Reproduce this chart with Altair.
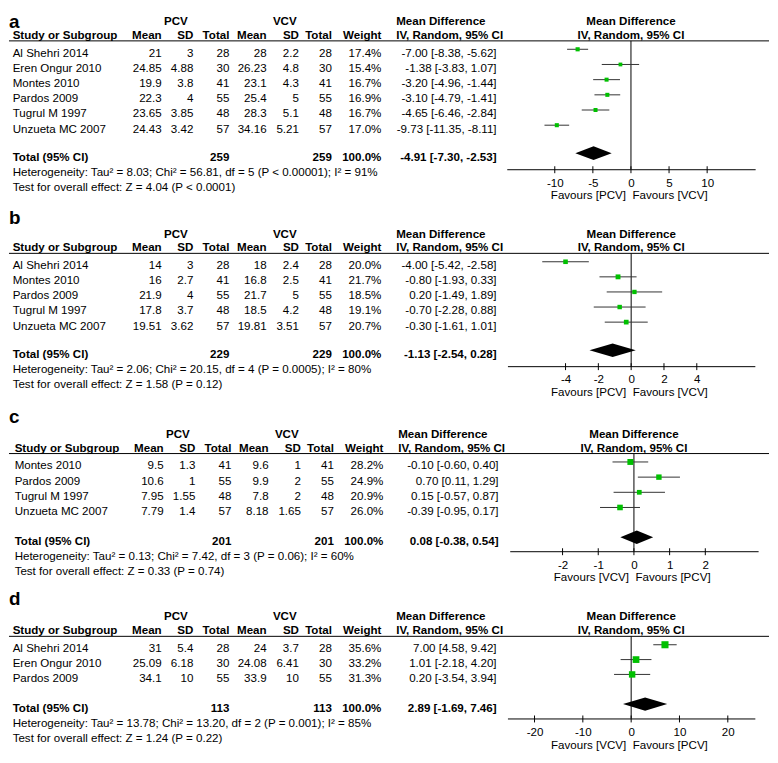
import altair as alt
import pandas as pd

FONT = "Liberation Sans"
FS = 11.7
GREEN = "#00c000"
LINE = "#333333"

# ------------------------------------------------------------------ data
# panel a
a_study = ["Al Shehri 2014", "Eren Ongur 2010", "Montes 2010", "Pardos 2009", "Tugrul M 1997", "Unzueta MC 2007"]
a_pcv_mean = [21, 24.85, 19.9, 22.3, 23.65, 24.43]
a_pcv_sd = [3, 4.88, 3.8, 4, 3.85, 3.42]
a_pcv_n = [28, 30, 41, 55, 48, 57]
a_vcv_mean = [28, 26.23, 23.1, 25.4, 28.3, 34.16]
a_vcv_sd = [2.2, 4.8, 4.3, 5, 5.1, 5.21]
a_vcv_n = [28, 30, 41, 55, 48, 57]
a_weight = [17.4, 15.4, 16.7, 16.9, 16.7, 17.0]
a_md = [-7.00, -1.38, -3.20, -3.10, -4.65, -9.73]
a_lo = [-8.38, -3.83, -4.96, -4.79, -6.46, -11.35]
a_hi = [-5.62, 1.07, -1.44, -1.41, -2.84, -8.11]
a_total = [259, 259, -4.91, -7.30, -2.53]
a_het = "Heterogeneity: Tau² = 8.03; Chi² = 56.81, df = 5 (P < 0.00001); I² = 91%"
a_test = "Test for overall effect: Z = 4.04 (P < 0.0001)"
a_ticks = [-10, -5, 0, 5, 10]
a_favours = ["Favours [PCV]", "Favours [VCV]"]

# panel b
b_study = ["Al Shehri 2014", "Montes 2010", "Pardos 2009", "Tugrul M 1997", "Unzueta MC 2007"]
b_pcv_mean = [14, 16, 21.9, 17.8, 19.51]
b_pcv_sd = [3, 2.7, 4, 3.7, 3.62]
b_pcv_n = [28, 41, 55, 48, 57]
b_vcv_mean = [18, 16.8, 21.7, 18.5, 19.81]
b_vcv_sd = [2.4, 2.5, 5, 4.2, 3.51]
b_vcv_n = [28, 41, 55, 48, 57]
b_weight = [20.0, 21.7, 18.5, 19.1, 20.7]
b_md = [-4.00, -0.80, 0.20, -0.70, -0.30]
b_lo = [-5.42, -1.93, -1.49, -2.28, -1.61]
b_hi = [-2.58, 0.33, 1.89, 0.88, 1.01]
b_total = [229, 229, -1.13, -2.54, 0.28]
b_het = "Heterogeneity: Tau² = 2.06; Chi² = 20.15, df = 4 (P = 0.0005); I² = 80%"
b_test = "Test for overall effect: Z = 1.58 (P = 0.12)"
b_ticks = [-4, -2, 0, 2, 4]
b_favours = ["Favours [PCV]", "Favours [VCV]"]

# panel c
c_study = ["Montes 2010", "Pardos 2009", "Tugrul M 1997", "Unzueta MC 2007"]
c_pcv_mean = [9.5, 10.6, 7.95, 7.79]
c_pcv_sd = [1.3, 1, 1.55, 1.4]
c_pcv_n = [41, 55, 48, 57]
c_vcv_mean = [9.6, 9.9, 7.8, 8.18]
c_vcv_sd = [1, 2, 2, 1.65]
c_vcv_n = [41, 55, 48, 57]
c_weight = [28.2, 24.9, 20.9, 26.0]
c_md = [-0.10, 0.70, 0.15, -0.39]
c_lo = [-0.60, 0.11, -0.57, -0.95]
c_hi = [0.40, 1.29, 0.87, 0.17]
c_total = [201, 201, 0.08, -0.38, 0.54]
c_het = "Heterogeneity: Tau² = 0.13; Chi² = 7.42, df = 3 (P = 0.06); I² = 60%"
c_test = "Test for overall effect: Z = 0.33 (P = 0.74)"
c_ticks = [-2, -1, 0, 1, 2]
c_favours = ["Favours [VCV]", "Favours [PCV]"]

# panel d
d_study = ["Al Shehri 2014", "Eren Ongur 2010", "Pardos 2009"]
d_pcv_mean = [31, 25.09, 34.1]
d_pcv_sd = [5.4, 6.18, 10]
d_pcv_n = [28, 30, 55]
d_vcv_mean = [24, 24.08, 33.9]
d_vcv_sd = [3.7, 6.41, 10]
d_vcv_n = [28, 30, 55]
d_weight = [35.6, 33.2, 31.3]
d_md = [7.00, 1.01, 0.20]
d_lo = [4.58, -2.18, -3.54]
d_hi = [9.42, 4.20, 3.94]
d_total = [113, 113, 2.89, -1.69, 7.46]
d_het = "Heterogeneity: Tau² = 13.78; Chi² = 13.20, df = 2 (P = 0.001); I² = 85%"
d_test = "Test for overall effect: Z = 1.24 (P = 0.22)"
d_ticks = [-20, -10, 0, 10, 20]
d_favours = ["Favours [VCV]", "Favours [PCV]"]

DATA = {
    "a": (a_study, a_pcv_mean, a_pcv_sd, a_pcv_n, a_vcv_mean, a_vcv_sd, a_vcv_n, a_weight, a_md, a_lo, a_hi, a_total, a_het, a_test, a_ticks, a_favours),
    "b": (b_study, b_pcv_mean, b_pcv_sd, b_pcv_n, b_vcv_mean, b_vcv_sd, b_vcv_n, b_weight, b_md, b_lo, b_hi, b_total, b_het, b_test, b_ticks, b_favours),
    "c": (c_study, c_pcv_mean, c_pcv_sd, c_pcv_n, c_vcv_mean, c_vcv_sd, c_vcv_n, c_weight, c_md, c_lo, c_hi, c_total, c_het, c_test, c_ticks, c_favours),
    "d": (d_study, d_pcv_mean, d_pcv_sd, d_pcv_n, d_vcv_mean, d_vcv_sd, d_vcv_n, d_weight, d_md, d_lo, d_hi, d_total, d_het, d_test, d_ticks, d_favours),
}

# ------------------------------------------------------------------ layout
W = 768
XSHIFT = 8
LAYOUT = [
    dict(key="a", off=8, H=158, label_y=23.0, r0b=52.3, sp=15.34, tot=6.84, xs=0, dom=16.3, rng=(503, 754)),
    dict(key="b", off=168, H=199, label_y=223.3, r0b=269.0, sp=15.25, tot=5.86, xs=0, dom=7.54, rng=(503.7, 753.7)),
    dict(key="c", off=369, H=187, label_y=426.7, r0b=473.3, sp=15.33, tot=4.96, xs=2, dom=3.48, rng=(506, 757)),
    dict(key="d", off=558, H=169, label_y=612.7, r0b=660.0, sp=15.0, tot=4.0, xs=0, dom=25.6, rng=(503.7, 753.7)),
]
COLX = dict(study=11.7, pm=162.3, ps=194.3, pn=230.7, vm=268.3, vs=301.0, vn=334.3, wt=384.3, ci=500.7,
            mdhead=399.3, pcv=176.7, vcv=286.7)
ONE = pd.DataFrame({"z": [0]})


def s(v):
    return str(v)


def ci_text(m, l, h):
    return f"{m:.2f} [{l:.2f}, {h:.2f}]"


def txt(text, x, y, align="left", bold=True, size=FS, clip=False):
    return alt.Chart(pd.DataFrame({"t": [text]})).mark_text(
        align=align, baseline="alphabetic", font=FONT, fontSize=size,
        fontWeight="bold" if bold else "normal", color="black", clip=clip
    ).encode(text="t:N", x=alt.value(x), y=alt.value(y))


def panel(L):
    (study, pm, ps, pn, vm, vs, vn, wt, md, lo, hi, total, het, test, ticks, fav) = DATA[L["key"]]
    o, H, xs, sp = L["off"], L["H"], L["xs"], L["sp"]

    def cx(r):
        return r - XSHIFT + xs

    def cy(r):
        return r - o

    r0b = cy(L["r0b"])
    c0 = r0b - 7.5
    ysc = alt.Scale(domain=[0, 10], range=[c0, c0 + 10 * sp], nice=False, zero=False)
    xsc = alt.Scale(domain=[-L["dom"], L["dom"]], range=list(L["rng"]), nice=False, zero=False)
    xax = alt.Axis(values=ticks, ticks=False, grid=False, domain=True, domainColor="black", domainWidth=1,
                   labelFont=FONT, labelFontSize=FS, labelColor="black", labelPadding=8,
                   labelExpr="datum.value", labelFlush=False, labelOverlap=False, title=None)

    def X(f):
        return alt.X(f, type="quantitative", scale=xsc, axis=xax)

    def Y(f):
        return alt.Y(f, type="quantitative", scale=ysc, axis=None)

    zero_px = (L["rng"][0] + L["rng"][1]) / 2
    n = len(study)
    rows = pd.DataFrame({
        "idx": list(range(n)),
        "study": study,
        "pm": [s(v) for v in pm], "ps": [s(v) for v in ps], "pn": [s(v) for v in pn],
        "vm": [s(v) for v in vm], "vs": [s(v) for v in vs], "vn": [s(v) for v in vn],
        "wt": [f"{v:.1f}%" for v in wt],
        "ci": [ci_text(m, l, h) for m, l, h in zip(md, lo, hi)],
        "md": md, "lo": lo, "hi": hi, "w": wt,
    })
    tot_df = pd.DataFrame({
        "idx": [L["tot"]], "study": ["Total (95% CI)"], "pn": [s(total[0])], "vn": [s(total[1])],
        "wt": ["100.0%"], "ci": [ci_text(total[2], total[3], total[4])],
    })
    h = 0.45
    dia = pd.DataFrame({
        "x": [total[3], total[2], total[4]],
        "yt": [L["tot"], L["tot"] - h, L["tot"]],
        "yb": [L["tot"], L["tot"] + h, L["tot"]],
    })
    tick_df = pd.DataFrame({"t": ticks})

    layers = []
    for col in ["study", "pm", "ps", "pn", "vm", "vs", "vn", "wt", "ci"]:
        layers.append(alt.Chart(rows).mark_text(
            align="left" if col == "study" else "right", baseline="alphabetic", dy=7.5,
            font=FONT, fontSize=FS, color="black"
        ).encode(x=alt.value(cx(COLX[col])), y=Y("idx"), text=f"{col}:N"))
    for col in ["study", "pn", "vn", "wt", "ci"]:
        layers.append(alt.Chart(tot_df).mark_text(
            align="left" if col == "study" else "right", baseline="alphabetic", dy=7.5,
            font=FONT, fontSize=FS, fontWeight="bold", color="black"
        ).encode(x=alt.value(cx(COLX[col])), y=Y("idx"), text=f"{col}:N"))

    yg = r0b - 32
    yh = r0b - 18
    yu = r0b - 16
    layers += [
        txt(L["key"], 0, cy(L["label_y"]), size=19, clip=True),
        txt("PCV", cx(COLX["pcv"]), yg, "center"),
        txt("VCV", cx(COLX["vcv"]), yg, "center"),
        txt("Mean Difference", cx(COLX["mdhead"]), yg),
        txt("Mean Difference", zero_px, yg, "center"),
        txt("Study or Subgroup", cx(COLX["study"]), yh),
        txt("Mean", cx(COLX["pm"]), yh, "right"),
        txt("SD", cx(COLX["ps"]), yh, "right"),
        txt("Total", cx(COLX["pn"]), yh, "right"),
        txt("Mean", cx(COLX["vm"]), yh, "right"),
        txt("SD", cx(COLX["vs"]), yh, "right"),
        txt("Total", cx(COLX["vn"]), yh, "right"),
        txt("Weight", cx(COLX["wt"]), yh, "right"),
        txt("IV, Random, 95% CI", cx(COLX["mdhead"]), yh),
        txt("IV, Random, 95% CI", zero_px, yh, "center"),
    ]
    tot_b = r0b + L["tot"] * sp
    layers += [
        txt(het, cx(COLX["study"]), tot_b + 16, bold=False),
        txt(test, cx(COLX["study"]), tot_b + 30.5, bold=False),
        txt(fav[0], zero_px - 5, H + 30.5, "right", bold=False),
        txt(fav[1], zero_px + 1.5, H + 30.5, "left", bold=False),
    ]
    layers.append(alt.Chart(ONE).mark_rule(color="black", strokeWidth=1).encode(
        x=alt.value(0), x2=alt.value(W), y=alt.value(yu)))
    zdf = pd.DataFrame({"md": [0]})
    layers.append(alt.Chart(zdf).mark_rule(color="black", strokeWidth=1).encode(
        x=X("md"), y=alt.value(yu), y2=alt.value(H)))
    layers.append(alt.Chart(tick_df).mark_rule(color="black", strokeWidth=1).encode(
        x=X("t"), y=alt.value(H - 3), y2=alt.value(H + 4)))
    layers.append(alt.Chart(rows).mark_rule(color=LINE, strokeWidth=1).encode(
        x=X("lo"), x2=alt.X2("hi"), y=Y("idx")))
    layers.append(alt.Chart(rows).mark_point(shape="square", filled=True, opacity=1, color=GREEN,
                                             strokeWidth=0).encode(
        x=X("md"), y=Y("idx"),
        size=alt.Size("w:Q", scale=alt.Scale(type="pow", exponent=1.5, domain=[0, 36], range=[0, 52]),
                      legend=None)))
    layers.append(alt.Chart(dia).mark_area(color="black", opacity=1).encode(
        x=X("x"), y=Y("yt"), y2=alt.Y2("yb")))

    return alt.layer(*layers).properties(width=W, height=H)


chart = alt.vconcat(*[panel(L) for L in LAYOUT], spacing=0, bounds="flush").resolve_scale(
    x="independent", y="independent"
).properties(padding=0, background="white").configure_view(stroke="transparent")

chart.save("out.html", embed_options={"renderer": "svg", "actions": False})
